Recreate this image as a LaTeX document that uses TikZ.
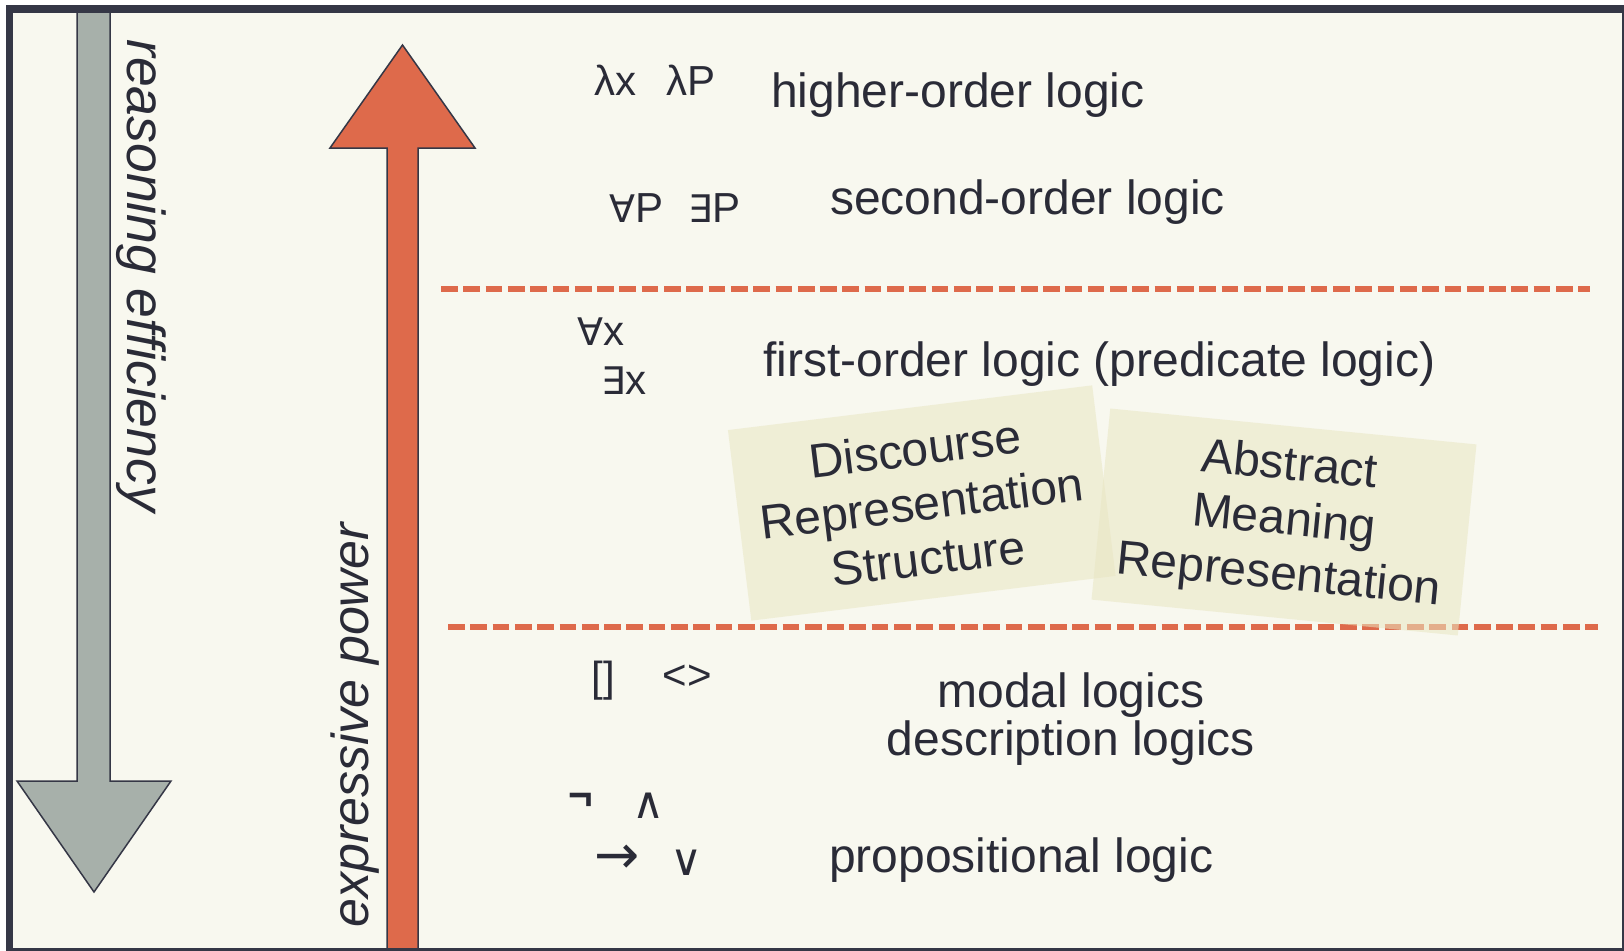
\documentclass[tikz,border=0pt]{standalone}
\usepackage{fontspec}
\setmainfont{Liberation Sans}
\newfontfamily\symfont{DejaVu Sans}
\definecolor{bgcream}{HTML}{F8F8EF}
\definecolor{framedark}{HTML}{353746}
\definecolor{inkdark}{HTML}{2A2B37}
\definecolor{rust}{HTML}{DE6A4B}
\definecolor{sage}{HTML}{A7B0AA}
\definecolor{notefill}{HTML}{E9E6C3}
\newcommand\labelfont{\fontsize{48}{55}\selectfont}
\newcommand\symsize{\fontsize{42}{42}\selectfont}
\begin{document}
\begin{tikzpicture}[x=1pt,y=-1pt,
  level/.style={inkdark,inner sep=0pt,anchor=base west,font=\labelfont},
  sym/.style={inkdark,inner sep=0pt,anchor=base west,font=\symsize},
  symc/.style={inkdark,inner sep=0pt,anchor=center,font=\symsize},
  axislabel/.style={inkdark,inner sep=0pt,anchor=base west},
  divider/.style={rust,line width=5.5pt,dash pattern=on 16.7pt off 5.6pt},
  bigarrow/.style={draw=framedark,line width=1.5pt,line join=miter},
  notebox/.style={fill=notefill,fill opacity=0.55,text opacity=1,text=inkdark,
    minimum width=367pt,minimum height=192pt,inner sep=0pt,align=center,font=\labelfont},
  frame/.style={draw=framedark,line width=7.5pt}]
\useasboundingbox (0,0) rectangle (1624,950);
\fill[white] (0,0) rectangle (1624,950);
\fill[bgcream] (9.5,9) rectangle (1630,956);

% level dividers
\coordinate (d1a) at (441,289);
\coordinate (d1b) at (1590,289);
\coordinate (d2a) at (448,627);
\coordinate (d2b) at (1598,627);
\draw[divider] (d1a) -- (d1b);
\draw[divider] (d2a) -- (d2b);

% reasoning efficiency arrow (pointing down)
\draw[bigarrow,fill=sage] (77,8) -- (77,781) -- (17,781) -- (94,892) -- (171,781)
  -- (110,781) -- (110,8);
% expressive power arrow (pointing up)
\draw[bigarrow,fill=rust] (387,956) -- (387,148) -- (330,148) -- (402.5,45) -- (475,148)
  -- (418,148) -- (418,956);

\node[axislabel,rotate=-90,font=\fontsize{53.5}{54}\selectfont\itshape] (eff) at (127,39) {reasoning efficiency};
\node[axislabel,rotate=90,font=\fontsize{52}{52}\selectfont\itshape] (pow) at (368,928) {expressive power};

% logic levels
\node[level] (hol) at (771,107) {higher-order logic};
\node[level] (sol) at (830,214) {second-order logic};
\node[level] (fol) at (763,376) {first-order logic (predicate logic)};
\node[level,anchor=base,align=center,font=\fontsize{48}{48}\selectfont] (modal) at (1071,755) {modal logics\\description logics};
\node[level] (prop) at (829,872) {propositional logic};

% operators of each level
\node[sym] (lamx) at (594,95) {λx};
\node[sym] (lamP) at (666,95) {λP};
\node[sym] (allP) at (609,222) {{\symfont\fontsize{38}{38}\selectfont ∀}P};
\node[sym] (exP) at (688,222) {{\symfont\fontsize{38}{38}\selectfont ∃}P};
\node[sym] (allx) at (577,345) {{\symfont\fontsize{38}{38}\selectfont ∀}x};
\node[sym] (exx) at (601,394) {{\symfont\fontsize{38}{38}\selectfont ∃}x};
\node[symc] (box) at (603.5,681) {[]};
\node[symc] (dia) at (687.5,677) {<>};
\node[symc,font=\fontsize{42}{42}\selectfont\bfseries] (neg) at (581,801) {¬};
\node[symc,font=\symfont\fontsize{44}{44}\selectfont] (conj) at (649,806) {∧};
\node[symc,font=\symfont\fontsize{54}{54}\selectfont] (impl) at (617,859) {→};
\node[symc,font=\symfont\fontsize{44}{44}\selectfont] (disj) at (687,863) {∨};

% meaning representations
\node[notebox,rotate=7] (drs) at (921.75,503) {Discourse\\Representation\\Structure};
\node[notebox,rotate=-5.6,minimum width=368pt] (amr) at (1284,522) {Abstract\\Meaning\\Representation};

\draw[frame] (9.5,9) rectangle (1625.5,951.5);
\end{tikzpicture}
\end{document}
